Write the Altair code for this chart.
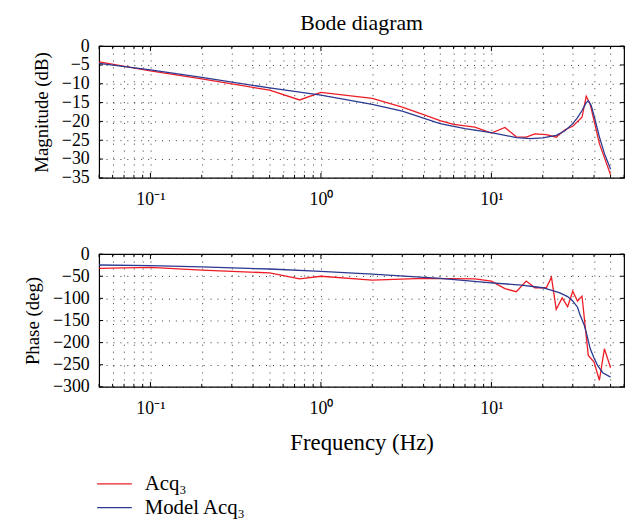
import altair as alt
import pandas as pd

# ---------------- data ----------------
mag_acq_freq = [0.05, 0.1, 0.2, 0.5, 0.75, 1, 2, 3, 4, 5, 6, 8, 10, 12, 14, 16, 18, 21, 24, 27, 30, 34, 36, 38, 43, 50]
mag_acq_db = [-4.2, -6.6, -8.7, -11.7, -14.3, -12.3, -13.9, -16.2, -18.2, -19.8, -20.8, -21.5, -23.1, -21.6,
              -24.1, -24.2, -23.3, -23.5, -24.2, -22.2, -21.3, -18.9, -13.3, -15.5, -25.9, -34.2]

mag_model_freq = [0.05, 0.1, 0.2, 0.5, 1, 2, 3, 5, 7, 10, 14, 17, 20, 24, 27, 30, 32, 34, 36, 37, 38.5, 40, 43, 46, 50]
mag_model_db = [-4.6, -6.3, -8.3, -11.1, -13.0, -15.5, -17.3, -20.6, -21.9, -23.0, -24.3, -24.6, -24.4, -23.7,
                -22.5, -20.6, -19.0, -17.1, -15.0, -14.5, -15.8, -18.5, -24.1, -28.5, -32.7]

ph_acq_freq = [0.05, 0.1, 0.2, 0.5, 0.75, 1, 2, 4, 8, 10, 12, 14, 16, 18, 21, 22.5, 24, 26, 28, 30, 32, 34, 37, 40,
               43, 46, 50]
ph_acq_deg = [-32, -30, -36, -42.5, -56, -50, -59, -55, -56, -61, -78, -85, -61, -76, -76, -52, -125, -99, -119,
              -84, -106, -95, -229, -244, -285, -214, -257]

ph_model_freq = [0.05, 0.1, 0.2, 0.5, 1, 2, 5, 10, 15, 20, 25, 28, 30, 32, 33, 35, 36, 38, 40, 42, 45, 50]
ph_model_deg = [-24.6, -26, -29, -33.6, -39, -45, -55, -65, -70, -76, -87, -96, -106, -120, -136, -160, -177,
                -214, -235, -252, -268, -278]

x_major = [0.1, 1, 10]
x_minor = [0.05, 0.06, 0.07, 0.08, 0.09, 0.2, 0.3, 0.4, 0.5, 0.6, 0.7, 0.8, 0.9,
           2, 3, 4, 5, 6, 7, 8, 9, 20, 30, 40, 50, 60]
mag_ticks = [0, -5, -10, -15, -20, -25, -30, -35]
phase_ticks = [0, -50, -100, -150, -200, -250, -300]

SERIES = ["Acq₃", "Model Acq₃"]
COLORS = ["#ee1c25", "#2b3990"]
FONT = "Liberation Serif"
LFS = 18     # tick labels
W = 530
XDOM = [0.05, 60]
PAD_L, PAD_T = 15, 1

LABEL_EXPR = ("datum.value == 0.1 ? '10⁻¹' : datum.value == 1 ? '10⁰' : "
              "datum.value == 10 ? '10¹' : ''")


def panel(acq_f, acq_v, mod_f, mod_v, ydom, yticks, ytitle, H, xtitle, with_legend):
    df = pd.concat([
        pd.DataFrame({"f": acq_f, "v": acq_v, "series": SERIES[0]}),
        pd.DataFrame({"f": mod_f, "v": mod_v, "series": SERIES[1]}),
    ])
    xs = alt.Scale(type="log", domain=XDOM, nice=False)
    ys = alt.Scale(domain=ydom, nice=False, zero=False)
    grid_vals = sorted(x_major + x_minor)

    xaxis = alt.Axis(values=grid_vals, labelExpr=LABEL_EXPR, grid=True, gridDash=[1, 6],
                     gridColor="black", gridOpacity=0.8, ticks=False, domain=False,
                     labelPadding=13, labelFlush=False, labelOverlap=False, titlePadding=14,
                     title=xtitle, titleFontSize=23)
    yaxis = alt.Axis(values=yticks, grid=True, gridDash=[1, 6], gridColor="black", gridOpacity=0.8,
                     ticks=False, domain=False, labelPadding=10, title=ytitle, titlePadding=10,
                     labelFlush=False, labelOverlap=False, titleFontSize=19)

    color = alt.Color("series:N", scale=alt.Scale(domain=SERIES, range=COLORS), legend=None)

    lines = alt.Chart(df).mark_line(strokeWidth=1.3).encode(
        x=alt.X("f:Q", scale=xs, axis=xaxis),
        y=alt.Y("v:Q", scale=ys, axis=yaxis),
        color=color,
        order=alt.Order("f:Q"),
    )

    maj = pd.DataFrame({"f": x_major})
    mino = pd.DataFrame({"f": x_minor})
    yt = pd.DataFrame({"v": yticks})
    layers = [lines]
    for d, ln in ((maj, 5), (mino, 3)):
        layers.append(alt.Chart(d).mark_rule(color="black", strokeWidth=1).encode(
            x=alt.X("f:Q", scale=xs, axis=xaxis), y=alt.value(H), y2=alt.value(H - ln)))
        layers.append(alt.Chart(d).mark_rule(color="black", strokeWidth=1).encode(
            x=alt.X("f:Q", scale=xs, axis=xaxis), y=alt.value(0), y2=alt.value(ln)))
    layers.append(alt.Chart(yt).mark_rule(color="black", strokeWidth=1).encode(
        y=alt.Y("v:Q", scale=ys, axis=yaxis), x=alt.value(0), x2=alt.value(4)))
    layers.append(alt.Chart(yt).mark_rule(color="black", strokeWidth=1).encode(
        y=alt.Y("v:Q", scale=ys, axis=yaxis), x=alt.value(W), x2=alt.value(W - 4)))

    if with_legend:
        # legend entries drawn below the lower panel (positions relative to its plot area)
        for i, (name, col) in enumerate(zip(SERIES, COLORS)):
            yy = H + 98 + 24 * i
            ld = pd.DataFrame({"series": [name]})
            layers.append(alt.Chart(ld).mark_rule(color=col, strokeWidth=1.3).encode(
                x=alt.value(-2), x2=alt.value(33), y=alt.value(yy)))
            layers.append(alt.Chart(ld).mark_text(align="left", baseline="middle", font=FONT,
                                                  fontSize=21, color="black").encode(
                x=alt.value(46), y=alt.value(yy), text="series:N"))
    return alt.layer(*layers).properties(width=W, height=H)


top = panel(mag_acq_freq, mag_acq_db, mag_model_freq, mag_model_db, [-35, 0], mag_ticks,
            "Magnitude (dB)", 133, "", False).properties(
    title=alt.TitleParams("Bode diagram", font=FONT, fontSize=22, fontWeight="normal",
                          color="black", offset=2))
bottom = panel(ph_acq_freq, ph_acq_deg, ph_model_freq, ph_model_deg, [-300, 0], phase_ticks,
               "Phase (deg)", 134, "Frequency (Hz)", True)

chart = alt.vconcat(top, bottom, spacing=35).configure_axis(
    labelFont=FONT, titleFont=FONT, labelFontSize=LFS, titleFontWeight="normal",
    labelColor="black", titleColor="black", labelOverlap=False
).configure_view(stroke="black", strokeWidth=1.2).properties(
    padding={"left": PAD_L, "top": PAD_T, "right": 5, "bottom": 5})

chart.save("out.html", embed_options={"renderer": "svg", "actions": False})
